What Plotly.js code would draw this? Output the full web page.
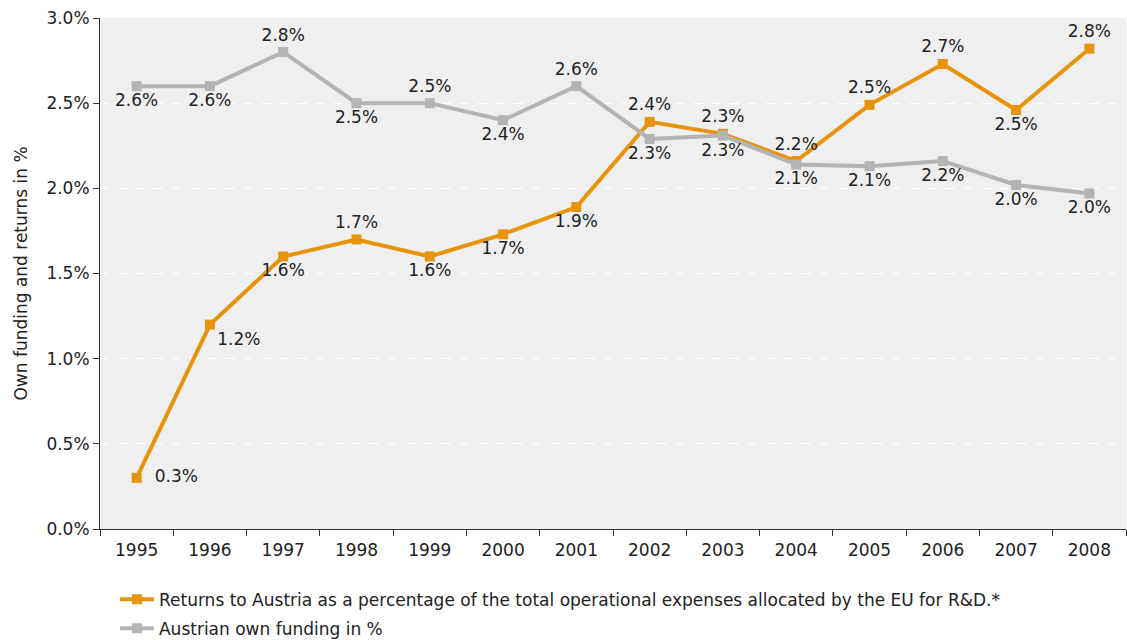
<!DOCTYPE html>
<html><head><meta charset="utf-8">
<script src="https://cdn.plot.ly/plotly-3.0.1.min.js"></script>
<style>body{margin:0;background:#fff}#c{width:1127px;height:640px}</style>
</head><body><div id="c"></div>
<script>
const years = ['1995','1996','1997','1998','1999','2000','2001','2002','2003','2004','2005','2006','2007','2008'];
const returnsPct = [0.3,1.2,1.6,1.7,1.6,1.73,1.89,2.39,2.32,2.16,2.49,2.73,2.46,2.82];
const ownFundingPct = [2.6,2.6,2.8,2.5,2.5,2.4,2.6,2.29,2.31,2.14,2.13,2.16,2.02,1.97];
const returnsPos = ['middle right','bottom right','bottom center','top center','bottom center','bottom center','bottom center','top center','top center','top center','top center','top center','bottom center','top center'];
const ownPos = ['bottom center','bottom center','top center','bottom center','top center','bottom center','top center','bottom center','bottom center','bottom center','bottom center','bottom center','bottom center','bottom center'];
const FONT = '"DejaVu Sans", sans-serif';
const returnsTpl = returnsPct.map((v,i)=> i===0 ? '  %{y:.1f}%' : '%{y:.1f}%');
const data = [
 {x: years, y: returnsPct, type:'scatter', mode:'lines+markers+text',
  name:'Returns to Austria as a percentage of the total operational expenses allocated by the EU for R&D.*',
  legendgroup:'a',
  line:{color:'#E8930C', width:4}, marker:{symbol:'square', size:10, color:'#E8930C'},
  texttemplate: returnsTpl, textposition: returnsPos, textfont:{size:17, color:'#222', family:FONT}, cliponaxis:false},
 {x: years, y: ownFundingPct, type:'scatter', mode:'lines+markers+text',
  name:'Austrian own funding in %', legendgroup:'b',
  line:{color:'#B4B4B4', width:4}, marker:{symbol:'square', size:10, color:'#B4B4B4'},
  texttemplate:'%{y:.1f}%', textposition: ownPos, textfont:{size:17, color:'#222', family:FONT}, cliponaxis:false}
];
const layout = {
 width:1127, height:640,
 margin:{l:100, r:1, t:18, b:111, autoexpand:false},
 paper_bgcolor:'#ffffff', plot_bgcolor:'#efefef',
 font:{family:FONT, size:17, color:'#222'},
 showlegend:true,
 legend:{orientation:'v', x:0.0146, xanchor:'left', y:-0.103, yanchor:'top', traceorder:'grouped', tracegroupgap:4,
   itemwidth:34, font:{size:17, color:'#222'}, bgcolor:'rgba(0,0,0,0)'},
 xaxis:{type:'category', range:[-0.5,13.5], showgrid:false, ticks:'outside', tickson:'boundaries', ticklen:6,
   tickcolor:'#333', showline:true, linecolor:'#333', linewidth:1, tickfont:{size:17}, zeroline:false, fixedrange:true,
   ticklabelstandoff:6},
 yaxis:{range:[0,3], dtick:0.5, tickformat:'.1f', ticksuffix:'%', showgrid:true, gridcolor:'#ffffff', griddash:'dash', gridwidth:1,
   ticks:'outside', ticklen:6, tickcolor:'#333', showline:true, linecolor:'#333', linewidth:1, zeroline:false,
   tickfont:{size:17}, title:{text:'Own funding and returns in %', font:{size:17}, standoff:14}, fixedrange:true}
};
Plotly.newPlot('c', data, layout, {displayModeBar:false, staticPlot:true});
</script></body></html>
